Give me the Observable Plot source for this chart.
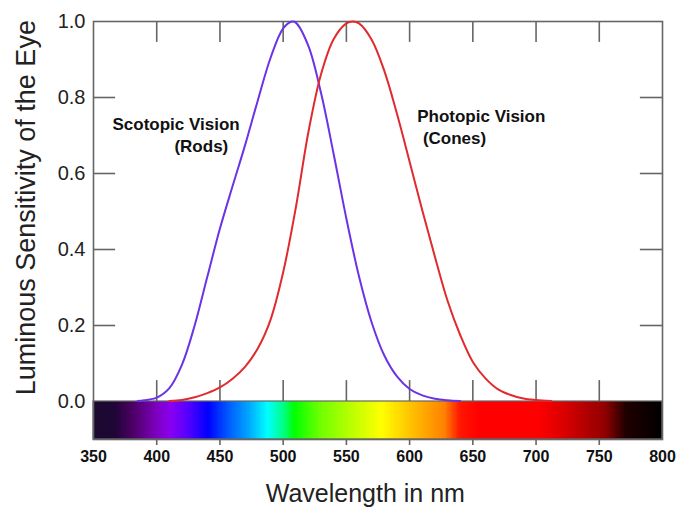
<!DOCTYPE html>
<html><head><meta charset="utf-8">
<script src="https://cdn.jsdelivr.net/npm/d3@7"></script>
<script src="https://cdn.jsdelivr.net/npm/@observablehq/plot@0.6"></script>
<style>body{margin:0;background:#fff;} #chart svg{display:block;}</style>
</head><body><div id="chart"></div>
<script>
// Scotopic (rods) luminous sensitivity
const scotopicNm    = [385, 390, 400, 410, 420, 430, 440, 450, 460, 470, 480, 490, 500, 507, 510, 520, 530, 540, 550, 560, 570, 580, 590, 600, 610, 620, 630, 640];
const scotopicValue = [0.001, 0.003, 0.010, 0.035, 0.097, 0.200, 0.328, 0.455, 0.567, 0.676, 0.793, 0.904, 0.982, 1.000, 0.997, 0.935, 0.811, 0.650, 0.481, 0.329, 0.208, 0.121, 0.066, 0.033, 0.016, 0.007, 0.003, 0.001];
// Photopic (cones) luminous sensitivity
const photopicNm    = [410, 420, 430, 440, 450, 460, 470, 480, 490, 500, 510, 520, 530, 540, 550, 555, 560, 570, 580, 590, 600, 610, 620, 630, 640, 650, 660, 670, 680, 690, 700, 712];
const photopicValue = [0.001, 0.004, 0.011, 0.022, 0.037, 0.060, 0.092, 0.140, 0.215, 0.340, 0.510, 0.710, 0.862, 0.954, 0.995, 1.000, 0.995, 0.952, 0.870, 0.757, 0.631, 0.503, 0.381, 0.265, 0.175, 0.104, 0.061, 0.032, 0.017, 0.008, 0.004, 0.001];
// Spectrum bar colour stops
const spectrumNm    = [350, 367, 380, 398, 411, 425, 441, 458, 472, 488, 501, 509, 530, 556, 578, 602, 628, 640, 655, 702, 723, 755, 771, 800];
const spectrumColor = ["#1a0a2e", "#1e0636", "#48005e", "#7800b4", "#8a00f0", "#5500ff", "#0000ff", "#0060ff", "#00a0ff", "#00ffff", "#00ff80", "#00ff00", "#70ff00", "#c0ff00", "#ffff00", "#ffc000", "#ff8000", "#ff1800", "#ff0000", "#ff0000", "#d80000", "#900000", "#200000", "#000000"];
// Axis ticks
const xTickLabels = [350, 400, 450, 500, 550, 600, 650, 700, 750, 800];
const xInnerTicks = [400, 450, 500, 550, 600, 650, 700, 750];
const yTickLabels = [0, 0.2, 0.4, 0.6, 0.8, 1.0];
const yInnerTicks = [0.2, 0.4, 0.6, 0.8];
// Annotations
const notes = [
  {nm: 365.0, v: 0.729, text: "Scotopic Vision"},
  {nm: 414.0, v: 0.672, text: "(Rods)"},
  {nm: 606.0, v: 0.750, text: "Photopic Vision"},
  {nm: 610.5, v: 0.692, text: "(Cones)"}
];
const xTitle = "Wavelength in nm";
const yTitle = "Luminous Sensitivity of the Eye";

const scotopic = scotopicNm.map((nm, i) => ({nm, v: scotopicValue[i]}));
const photopic = photopicNm.map((nm, i) => ({nm, v: photopicValue[i]}));
const specScale = d3.scaleLinear().domain(spectrumNm).range(spectrumColor).interpolate(d3.interpolateRgb);
const cells = d3.range(350, 800).map(nm => ({nm, color: specScale(nm + 0.5)}));

const gray = "#666666";
const xTickLen = 0.055;   // in y units
const yTickLen = 17.5;    // in nm

const chart = Plot.plot({
  width: 676,
  height: 510,
  marginLeft: 93,
  marginRight: 14,
  marginTop: 21,
  marginBottom: 71,
  style: {fontFamily: "'Liberation Sans', Arial, sans-serif", background: "#fff", color: "#222"},
  x: {domain: [350, 800]},
  y: {domain: [-0.1, 1]},
  color: {type: "identity"},
  marks: [
    Plot.rect(cells, {x1: "nm", x2: d => d.nm + 1, y1: -0.1, y2: 0, fill: "color", shapeRendering: "crispEdges"}),
    Plot.rect([0], {x1: 350, x2: 800, y1: -0.1, y2: 0, stroke: gray, strokeWidth: 1.2, fill: "none"}),
    Plot.ruleX(xInnerTicks, {x: d => d, y1: 0, y2: xTickLen, stroke: gray, strokeWidth: 1.6}),
    Plot.ruleX(xInnerTicks, {x: d => d, y1: 1, y2: 1 - xTickLen, stroke: gray, strokeWidth: 1.6}),
    Plot.ruleY(yInnerTicks, {y: d => d, x1: 350, x2: 350 + yTickLen, stroke: gray, strokeWidth: 1.6}),
    Plot.ruleY(yInnerTicks, {y: d => d, x1: 800, x2: 800 - yTickLen, stroke: gray, strokeWidth: 1.6}),
    Plot.frame({stroke: gray, strokeWidth: 1.6}),
    Plot.line(scotopic, {x: "nm", y: "v", stroke: "#6a34e6", strokeWidth: 2, curve: "catmull-rom"}),
    Plot.line(photopic, {x: "nm", y: "v", stroke: "#e02a2e", strokeWidth: 2, curve: "catmull-rom"}),
    Plot.axisX(xInnerTicks, {anchor: "bottom", tickSize: 6, stroke: gray, strokeWidth: 1.6, text: null, label: null}),
    Plot.axisX(xTickLabels, {anchor: "bottom", tickSize: 0, tickPadding: 11, fontSize: 16, fontWeight: "bold", fill: "#111", label: null, tickFormat: d => String(d)}),
    Plot.axisY(yTickLabels, {anchor: "left", tickSize: 0, tickPadding: 8, fontSize: 20, fill: "#222", label: null, tickFormat: d => d.toFixed(1)}),
    Plot.text(notes, {x: "nm", y: "v", text: "text", textAnchor: "start", fontSize: 17, fontWeight: "bold", fill: "#111"}),
    Plot.text([xTitle], {x: 565, y: -0.1, dy: 54, text: d => d, fontSize: 25, fill: "#222"}),
    Plot.text([yTitle], {x: 350, y: 0.51, dx: -67, text: d => d, rotate: -90, fontSize: 27, fill: "#222"})
  ]
});
document.getElementById("chart").appendChild(chart);
</script>
</body></html>
